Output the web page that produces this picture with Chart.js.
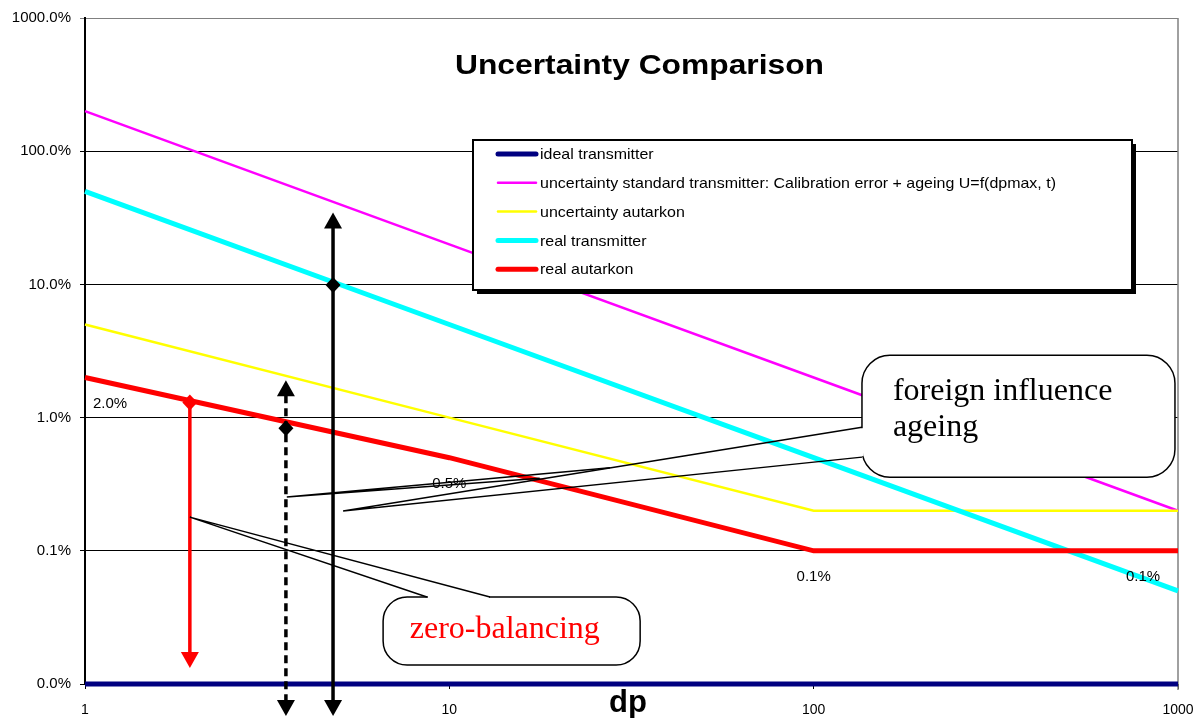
<!DOCTYPE html>
<html><head><meta charset="utf-8">
<script src="https://cdn.jsdelivr.net/npm/chart.js@4/dist/chart.umd.min.js"></script>
<style>html,body{margin:0;padding:0;background:#fff;overflow:hidden}#wrap{width:1193px;height:718px;position:relative}</style>
</head><body><div id="wrap"><canvas id="c" width="1193" height="718"></canvas></div>
<script>
// ---- data ----
const dpValues = [1, 10, 100, 1000];
const idealTransmitter = [0.01, 0.01, 0.01, 0.01];
const standardTransmitter = [200, 20, 2, 0.2];
const uncertaintyAutarkon = [5, 1, 0.2, 0.2];
const realTransmitter = [50, 5, 0.5, 0.05];
const realAutarkon = [2, 0.5, 0.1, 0.1];
const seriesLabels = [
  'ideal transmitter',
  'uncertainty standard transmitter: Calibration error + ageing U=f(dpmax, t)',
  'uncertainty autarkon',
  'real transmitter',
  'real autarkon'
];
const seriesColors = ['#000080', '#FF00FF', '#FFFF00', '#00FFFF', '#FF0000'];
const seriesWidths = [5, 2.5, 2.5, 5, 5];
const yTickValues = [0.01, 0.1, 1, 10, 100, 1000];
const xTickValues = [1, 10, 100, 1000];
const chartTitle = 'Uncertainty Comparison';
const xAxisTitle = 'dp';

// annotation anchors in data units (dp, %)
const arrowSpecs = [
  {dp: 1.94, from: 1.30, to: 0.0132, color: '#FF0000', dashed: false, headTop: false, headBottom: true, diamond: 1.30},
  {dp: 3.56, from: 1.908, to: 0.00575, color: '#000000', dashed: true, headTop: true, headBottom: true, diamond: 0.833},
  {dp: 4.795, from: 34.7, to: 0.00575, color: '#000000', dashed: false, headTop: true, headBottom: true, diamond: 9.9}
];
const foreignCallout = {
  lines: ['foreign influence', 'ageing'], color: '#000000',
  box: {dp1: 135.7, dp2: 981, top: 2.94, bottom: 0.357},
  textDp: 165, baselines: [1.35, 0.725],
  gap: [0.847, 0.505], apex: [5.11, 0.1987],
  apex2: [3.58, 0.253], apex2Ends: [[17.7, 0.351], [27.6, 0.420]]
};
const zeroCallout = {
  text: 'zero-balancing', color: '#FF0000',
  box: {dp1: 6.58, dp2: 33.4, top: 0.045, bottom: 0.01388},
  textDp: 14.2, baseline: 0.02213,
  gap: [8.68, 12.93], apex: [1.94, 0.179]
};

const datasetValues = [idealTransmitter, standardTransmitter, uncertaintyAutarkon, realTransmitter, realAutarkon];
const datasets = datasetValues.map((vals, i) => ({
  label: seriesLabels[i],
  data: dpValues.map((x, j) => ({x: x, y: vals[j]})),
  borderColor: seriesColors[i],
  backgroundColor: seriesColors[i],
  borderWidth: seriesWidths[i],
  pointRadius: 0,
  tension: 0,
  fill: false,
  clip: 6,
  order: datasetValues.length - 1 - i
}));

function fmtPct(v) { return v.toFixed(1) + '%'; }

function fitText(ctx, text, x, y, width) {
  const w = ctx.measureText(text).width;
  ctx.save();
  ctx.translate(x, y);
  ctx.scale(width / w, 1);
  ctx.fillText(text, 0, 0);
  ctx.restore();
}

const annotationPlugin = {
  id: 'annot',
  beforeDatasetsDraw(chart) {
    const ctx = chart.ctx, a = chart.chartArea;
    ctx.save();
    ctx.strokeStyle = '#808080';
    ctx.lineWidth = 1.5;
    ctx.beginPath();
    ctx.moveTo(a.right, a.top);
    ctx.lineTo(a.right, a.bottom + 6);
    ctx.stroke();
    ctx.restore();
  },
  afterDatasetsDraw(chart) {
    const ctx = chart.ctx, a = chart.chartArea;
    const xs = chart.scales.x, ys = chart.scales.y;
    const X = v => xs.getPixelForValue(v);
    const Y = v => ys.getPixelForValue(v);
    ctx.save();

    // data labels of the red series
    ctx.font = '15px "Liberation Sans", Arial, sans-serif';
    ctx.fillStyle = '#000';
    ctx.textAlign = 'center';
    ctx.textBaseline = 'middle';
    realAutarkon.forEach((v, i) => {
      let x = X(dpValues[i]);
      x = Math.min(Math.max(x, a.left + 25), a.right - 35);
      ctx.fillText(fmtPct(v), x, Y(v) + 26);
    });

    // arrows
    arrowSpecs.forEach(s => {
      const x = X(s.dp), y1 = Y(s.from), y2 = Y(s.to);
      const hh = 16, hw = 9;
      ctx.strokeStyle = s.color; ctx.fillStyle = s.color;
      ctx.lineWidth = 3.5;
      ctx.setLineDash(s.dashed ? [8, 5] : []);
      ctx.beginPath();
      ctx.moveTo(x, s.headTop ? y1 + hh - 1 : y1);
      ctx.lineTo(x, s.headBottom ? y2 - hh + 1 : y2);
      ctx.stroke();
      ctx.setLineDash([]);
      if (s.headTop) {
        ctx.beginPath(); ctx.moveTo(x, y1); ctx.lineTo(x - hw, y1 + hh); ctx.lineTo(x + hw, y1 + hh); ctx.closePath(); ctx.fill();
      }
      if (s.headBottom) {
        ctx.beginPath(); ctx.moveTo(x, y2); ctx.lineTo(x - hw, y2 - hh); ctx.lineTo(x + hw, y2 - hh); ctx.closePath(); ctx.fill();
      }
      const dy = Y(s.diamond);
      ctx.beginPath(); ctx.moveTo(x, dy - 8); ctx.lineTo(x + 7.5, dy); ctx.lineTo(x, dy + 8); ctx.lineTo(x - 7.5, dy); ctx.closePath(); ctx.fill();
    });

    // callout: foreign influence
    const fc = foreignCallout;
    const fx1 = X(fc.box.dp1), fx2 = X(fc.box.dp2), fy1 = Y(fc.box.top), fy2 = Y(fc.box.bottom);
    ctx.fillStyle = '#fff'; ctx.strokeStyle = '#000'; ctx.lineWidth = 1.5;
    ctx.beginPath(); ctx.roundRect(fx1, fy1, fx2 - fx1, fy2 - fy1, 28); ctx.fill(); ctx.stroke();
    const g1 = Y(fc.gap[0]), g2 = Y(fc.gap[1]);
    ctx.strokeStyle = '#fff'; ctx.lineWidth = 3;
    ctx.beginPath(); ctx.moveTo(fx1, g1 + 1); ctx.lineTo(fx1, g2 - 1); ctx.stroke();
    ctx.strokeStyle = '#000'; ctx.lineWidth = 1.5;
    const ax = X(fc.apex[0]), ay = Y(fc.apex[1]);
    ctx.beginPath(); ctx.moveTo(fx1, g1); ctx.lineTo(ax, ay); ctx.lineTo(fx1, g2); ctx.stroke();
    const bx = X(fc.apex2[0]), by = Y(fc.apex2[1]);
    ctx.beginPath();
    ctx.moveTo(X(fc.apex2Ends[0][0]), Y(fc.apex2Ends[0][1])); ctx.lineTo(bx, by);
    ctx.lineTo(X(fc.apex2Ends[1][0]), Y(fc.apex2Ends[1][1]));
    ctx.stroke();
    ctx.fillStyle = fc.color;
    ctx.font = '32px "Liberation Serif", "Times New Roman", serif';
    ctx.textAlign = 'left'; ctx.textBaseline = 'alphabetic';
    fc.lines.forEach((t, i) => ctx.fillText(t, X(fc.textDp), Y(fc.baselines[i])));

    // callout: zero-balancing
    const zc = zeroCallout;
    const zx1 = X(zc.box.dp1), zx2 = X(zc.box.dp2), zy1 = Y(zc.box.top), zy2 = Y(zc.box.bottom);
    ctx.fillStyle = '#fff'; ctx.strokeStyle = '#000'; ctx.lineWidth = 1.5;
    ctx.beginPath(); ctx.roundRect(zx1, zy1, zx2 - zx1, zy2 - zy1, 24); ctx.fill(); ctx.stroke();
    const zg1 = X(zc.gap[0]), zg2 = X(zc.gap[1]);
    ctx.strokeStyle = '#fff'; ctx.lineWidth = 3;
    ctx.beginPath(); ctx.moveTo(zg1 + 1, zy1); ctx.lineTo(zg2 - 1, zy1); ctx.stroke();
    ctx.strokeStyle = '#000'; ctx.lineWidth = 1.5;
    ctx.beginPath(); ctx.moveTo(zg1, zy1); ctx.lineTo(X(zc.apex[0]), Y(zc.apex[1])); ctx.lineTo(zg2, zy1); ctx.stroke();
    ctx.fillStyle = zc.color;
    ctx.textAlign = 'center';
    ctx.fillText(zc.text, X(zc.textDp), Y(zc.baseline));

    // legend box
    const L = {x: 473, y: 140, w: 659, h: 150};
    ctx.fillStyle = '#000';
    ctx.fillRect(L.x + 4, L.y + 4, L.w, L.h);
    ctx.fillStyle = '#fff';
    ctx.fillRect(L.x, L.y, L.w, L.h);
    ctx.strokeStyle = '#000'; ctx.lineWidth = 2;
    ctx.strokeRect(L.x, L.y, L.w, L.h);
    ctx.font = '15px "Liberation Sans", Arial, sans-serif';
    const longest = Math.max(...chart.data.datasets.map(d => ctx.measureText(d.label).width));
    const sx = 516 / longest;
    chart.data.datasets.forEach((d, i) => {
      const yy = 154 + i * 28.8;
      ctx.strokeStyle = d.borderColor; ctx.lineWidth = d.borderWidth; ctx.lineCap = 'round';
      ctx.beginPath(); ctx.moveTo(498, yy); ctx.lineTo(536, yy); ctx.stroke();
      ctx.lineCap = 'butt';
      ctx.save();
      ctx.translate(540, yy);
      ctx.scale(sx, 1);
      ctx.fillStyle = '#000'; ctx.textAlign = 'left'; ctx.textBaseline = 'middle';
      ctx.fillText(d.label, 0, 1);
      ctx.restore();
    });

    // title
    ctx.fillStyle = '#000';
    ctx.font = 'bold 28px "Liberation Sans", Arial, sans-serif';
    ctx.textAlign = 'left'; ctx.textBaseline = 'middle';
    fitText(ctx, chartTitle, 455, 66, 369);

    // x axis title
    ctx.textAlign = 'center';
    ctx.font = 'bold 31px "Liberation Sans", Arial, sans-serif';
    ctx.fillText(xAxisTitle, 628, 703);
    ctx.restore();
  }
};

new Chart(document.getElementById('c'), {
  type: 'line',
  data: {datasets: datasets},
  plugins: [annotationPlugin],
  options: {
    responsive: false,
    animation: false,
    devicePixelRatio: 1,
    layout: {padding: {top: 18, right: 15, left: 0, bottom: 0}},
    plugins: {legend: {display: false}, title: {display: false}, tooltip: {enabled: false}},
    scales: {
      x: {
        type: 'logarithmic', min: 1, max: 1000,
        afterBuildTicks: s => { s.ticks = xTickValues.map(v => ({value: v})); },
        afterFit: s => { s.height = 34; s.paddingRight = 0; s.paddingLeft = 0; },
        ticks: {callback: v => String(v), color: '#000', font: {size: 14, family: '"Liberation Sans", Arial, sans-serif'}, autoSkip: false, maxRotation: 0, padding: 13},
        grid: {drawOnChartArea: false, drawTicks: true, tickLength: 5, color: '#000'},
        border: {display: false}
      },
      y: {
        type: 'logarithmic', min: 0.01, max: 1000,
        afterBuildTicks: s => { s.ticks = yTickValues.map(v => ({value: v})); },
        afterFit: s => { s.width = 85; },
        ticks: {callback: v => fmtPct(v), color: '#000', font: {size: 15, family: '"Liberation Sans", Arial, sans-serif'}, autoSkip: false, padding: 9},
        grid: {color: c => (c.tick && c.tick.value === 1000) ? '#808080' : '#000', lineWidth: 1, drawTicks: true, tickLength: 5},
        border: {display: true, color: '#000', width: 2}
      }
    }
  }
});
</script></body></html>
